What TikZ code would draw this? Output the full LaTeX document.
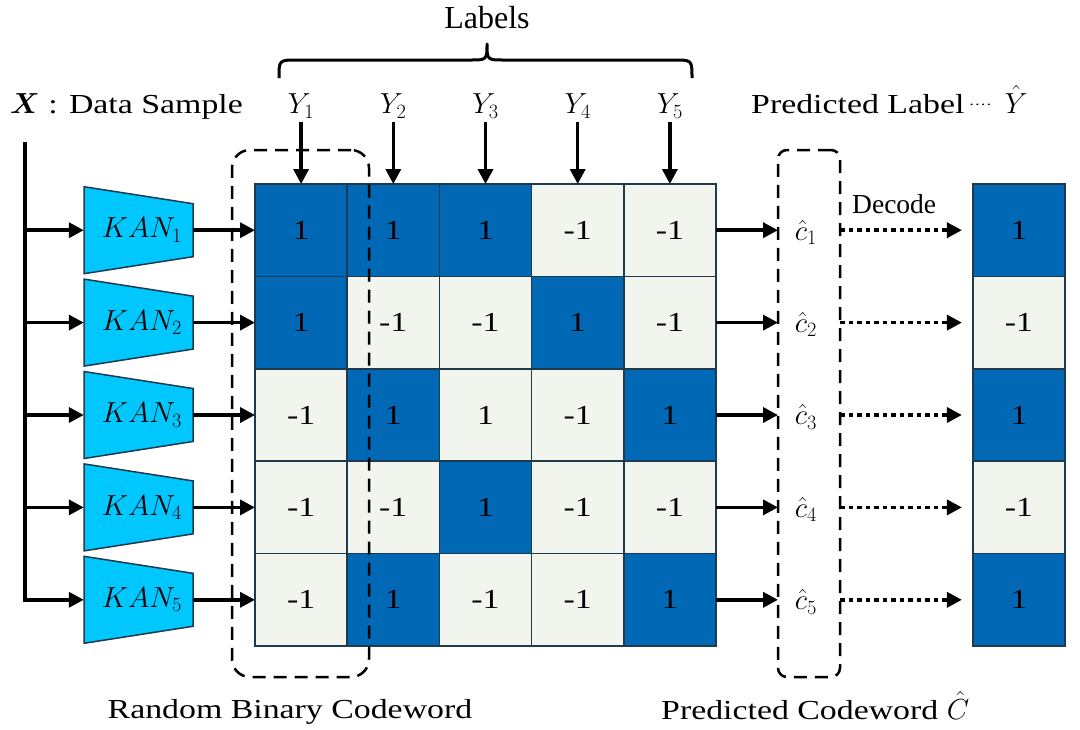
\documentclass[tikz,border=0pt]{standalone}
\usepackage{fix-cm}
\usepackage{amsmath}
\usepackage{fontspec}
\setmainfont{Liberation Serif}
\newfontfamily\wideserif[FakeStretch=1.23]{Liberation Serif}
\usetikzlibrary{arrows.meta}
\definecolor{kancyan}{HTML}{00C8FF}
\definecolor{cellblue}{HTML}{0068B4}
\definecolor{celllight}{HTML}{F2F5EE}
\definecolor{celledge}{HTML}{1E3A4C}
\begin{document}
\begin{tikzpicture}[x=1pt,y=-1pt,
  font=\fontsize{27.5}{30}\wideserif,
  cell/.style={draw=celledge, line width=1.5pt, minimum width=92.2pt, minimum height=92.4pt, inner sep=0pt, outer sep=0pt},
  bc/.style={cell, fill=cellblue},
  lc/.style={cell, fill=celllight},
  arr/.style={line width=3.5pt, -{Triangle[length=15pt,width=15pt]}},
  dotarr/.style={line width=3.5pt, dash pattern=on 4.5pt off 4pt, -{Triangle[length=15pt,width=15pt]}},
  dbox/.style={draw, line width=2.5pt, dash pattern=on 13pt off 8pt, inner sep=0pt},
  kan/.style={draw=celledge, line width=1.5pt, fill=kancyan},
  lbl/.style={inner sep=0pt},
  plain/.style={inner sep=0pt, font=\fontsize{27.5}{30}\rmfamily}
]
\useasboundingbox (0,0) rectangle (1080,729);

% matrix cells
\foreach \i/\j/\s/\v in {1/1/bc/1, 1/2/bc/1, 1/3/bc/1, 1/4/lc/-1, 1/5/lc/-1,
                         2/1/bc/1, 2/2/lc/-1, 2/3/lc/-1, 2/4/bc/1, 2/5/lc/-1,
                         3/1/lc/-1, 3/2/bc/1, 3/3/lc/1, 3/4/lc/-1, 3/5/bc/1,
                         4/1/lc/-1, 4/2/lc/-1, 4/3/bc/1, 4/4/lc/-1, 4/5/lc/-1,
                         5/1/lc/-1, 5/2/bc/1, 5/3/lc/-1, 5/4/lc/-1, 5/5/bc/1}
  \node[\s] (m\i\j) at ({255+92.2*(\j-0.5)},{184+92.4*(\i-0.5)}) {\v};

% dashed box 1 (over the cells)
\node[dbox, rounded corners=18pt, minimum width=137pt, minimum height=527pt] (box1) at (300.5,413.5) {};

% predicted column
\foreach \i/\s/\v in {1/bc/1, 2/lc/-1, 3/bc/1, 4/lc/-1, 5/bc/1}
  \node[\s] (p\i) at (1019,{184+92.4*(\i-0.5)}) {\v};

% second dashed box
\node[dbox, rounded corners=9pt, minimum width=62pt, minimum height=527pt] (box2) at (809,413.5) {};

% KAN trapezoids
\foreach \i in {1,...,5} {
  \pgfmathsetmacro{\cy}{184+92.4*(\i-0.5)}
  \draw[kan] (84,{\cy-43.5}) -- (193,{\cy-26.5}) -- (193,{\cy+26.5}) -- (84,{\cy+43.5}) -- cycle;
  \node[minimum width=109pt, minimum height=87pt, inner sep=0pt] (k\i) at (138.5,\cy) {};
  \node[lbl] (kt\i) at (142,\cy) {\fontsize{29}{32}\selectfont$KAN_{\i}$};
  \coordinate (b\i) at (25,\cy);
  \coordinate (cl\i) at (778,\cy);
  \coordinate (cr\i) at (840,\cy);
  \node[lbl] (c\i) at (806,{\cy+2}) {\fontsize{29}{32}\selectfont$\hat{c}_{\i}$};
}

% input line and arrows
\coordinate (top) at (25,142);
\draw[arr] (top) |- (k5.west);
\foreach \i in {1,...,4} \draw[arr] (b\i) -- (k\i.west);
\foreach \i in {1,...,5} {
  \draw[arr] (k\i.east) -- (m\i1.west);
  \draw[arr] (m\i5.east) -- (cl\i);
  \draw[dotarr, shorten >=11pt] (cr\i) -- (p\i.west);
}

% Y labels
\foreach \j in {1,...,5} {
  \node[lbl] (y\j) at ({255+92.2*(\j-0.5)},106) {\fontsize{29}{32}\selectfont$Y_{\j}$};
  \coordinate (ys\j) at ({255+92.2*(\j-0.5)},122);
  \draw[arr] (ys\j) -- (m1\j.north);
}

% brace
\draw[line width=3pt, line join=round]
  (279,78) .. controls (279,60) .. (297,60) -- (469,60)
  .. controls (487,60) .. (487,44) .. controls (487,60) .. (505,60)
  -- (674,60) .. controls (692,60) .. (692,78);

% texts
\node[lbl, anchor=base] (labels) at (487,28) {\fontsize{32}{35}\rmfamily Labels};
\node[lbl, anchor=base west] (xlab) at (10,113) {\fontsize{29}{32}\selectfont$\boldsymbol{X}$\fontsize{27.5}{30}\selectfont\ : Data Sample};
\node[lbl, anchor=base west] (plab) at (751,113) {Predicted Label\,\raisebox{0.25ex}{\fontsize{14}{14}\selectfont····}\, \fontsize{29}{32}\selectfont$\hat{Y}$};
\node[plain, anchor=base west] (dec) at (852,213) {Decode};
\node[lbl, anchor=base] (rbc) at (290,718) {Random Binary Codeword};
\node[lbl, anchor=base west] (pcw) at (661,719) {Predicted Codeword \fontsize{29}{32}\selectfont$\hat{C}$};
\end{tikzpicture}
\end{document}
